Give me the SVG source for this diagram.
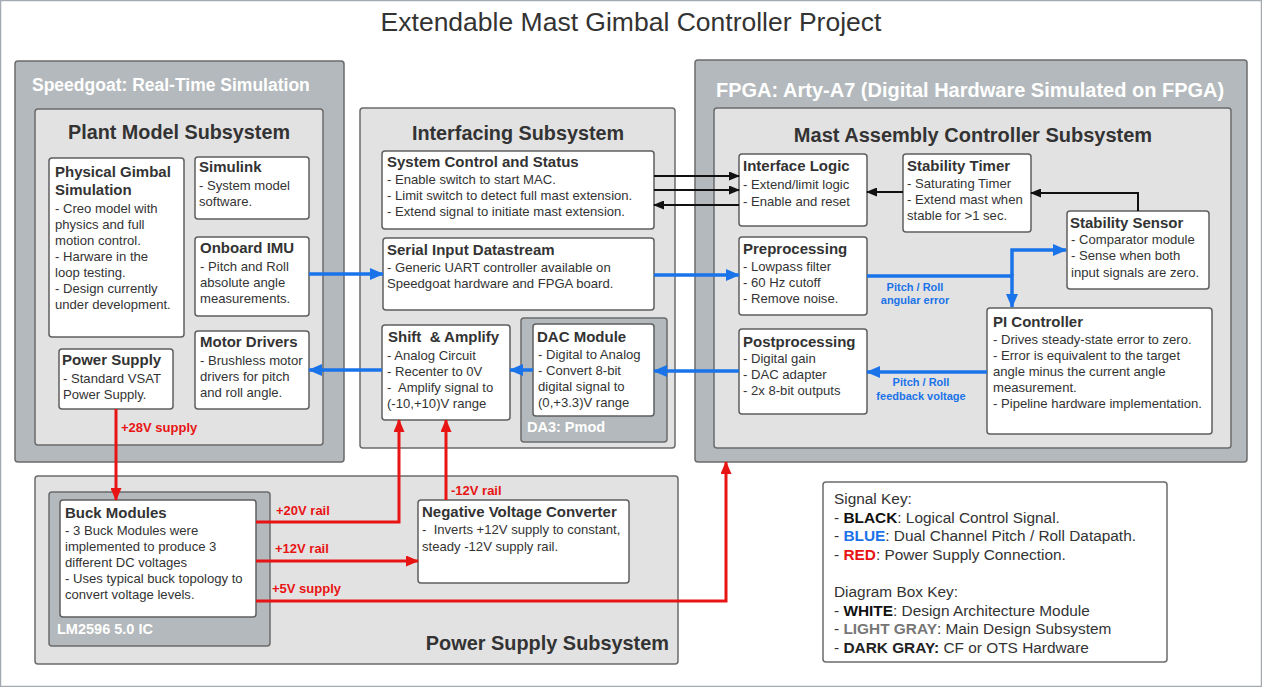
<svg xmlns="http://www.w3.org/2000/svg" width="1262" height="687" viewBox="0 0 1262 687">
<style>
text{font-family:"Liberation Sans",Arial,sans-serif;fill:#333}
.dk{fill:#b3b9bc;stroke:#6b6b6b;stroke-width:1.5}
.lt{fill:#e2e2e2;stroke:#6b6b6b;stroke-width:1.5}
.wb{fill:#fff;stroke:#5f5f5f;stroke-width:1.5}
.ht{font-size:17.5px;font-weight:bold;fill:#fff}
.st{font-size:19.8px;font-weight:bold;text-anchor:middle}
.bt{font-size:15px;font-weight:bold}
.b{font-size:13.1px}
.bl{fill:none;stroke:#1a73e8;stroke-width:3.5}
.bk{fill:none;stroke:#111;stroke-width:2}
.rd{fill:none;stroke:#e81414;stroke-width:3}
.bll{font-size:11px;font-weight:bold;fill:#1a73e8;text-anchor:middle}
.rl{font-size:13px;font-weight:bold;fill:#e81414}
.k{font-size:15.4px}
</style>
<defs>
<marker id="ab" markerUnits="userSpaceOnUse" markerWidth="14" markerHeight="12" refX="13" refY="6" orient="auto"><path d="M0,0 L14,6 L0,12 z" fill="#1a73e8"/></marker>
<marker id="ak" markerUnits="userSpaceOnUse" markerWidth="11" markerHeight="9" refX="10" refY="4.5" orient="auto"><path d="M0,0 L11,4.5 L0,9 z" fill="#111"/></marker>
<marker id="ar" markerUnits="userSpaceOnUse" markerWidth="13" markerHeight="11" refX="12" refY="5.5" orient="auto"><path d="M0,0 L13,5.5 L0,11 z" fill="#e81414"/></marker>
</defs>
<rect x="0.5" y="0.5" width="1261" height="686" fill="#fff" stroke="#a3aab2" stroke-width="1.5"/>
<text x="631" y="31" text-anchor="middle" style="font-size:26.5px">Extendable Mast Gimbal Controller Project</text>

<g id="speedgoat">
<rect class="dk" x="15" y="61" width="329" height="401" rx="3"/>
<text class="ht" x="32" y="91">Speedgoat: Real-Time Simulation</text>
</g>
<g id="plant-model">
<rect class="lt" x="35" y="109" width="288" height="336" rx="3"/>
<text class="st" x="179" y="139">Plant Model Subsystem</text>
</g>
<g id="physical-gimbal">
<rect class="wb" x="49" y="158" width="135" height="179" rx="3"/>
<text class="bt" x="55" y="177">Physical Gimbal</text>
<text class="bt" x="55" y="195">Simulation</text>
<text class="b" x="55" y="213">- Creo model with</text>
<text class="b" x="55" y="229">physics and full</text>
<text class="b" x="55" y="245">motion control.</text>
<text class="b" x="55" y="261">- Harware in the</text>
<text class="b" x="55" y="277">loop testing.</text>
<text class="b" x="55" y="293">- Design currently</text>
<text class="b" x="55" y="309">under development.</text>
</g>
<g id="simulink">
<rect class="wb" x="195" y="157" width="114" height="62" rx="3"/>
<text class="bt" x="199" y="172">Simulink</text>
<text class="b" x="199" y="190">- System model</text>
<text class="b" x="199" y="206">software.</text>
</g>
<g id="onboard-imu">
<rect class="wb" x="195" y="237" width="114" height="79" rx="3"/>
<text class="bt" x="200" y="253">Onboard IMU</text>
<text class="b" x="200" y="271">- Pitch and Roll</text>
<text class="b" x="200" y="287">absolute angle</text>
<text class="b" x="200" y="303">measurements.</text>
</g>
<g id="motor-drivers">
<rect class="wb" x="195" y="331" width="114" height="78" rx="3"/>
<text class="bt" x="200" y="347">Motor Drivers</text>
<text class="b" x="200" y="365">- Brushless motor</text>
<text class="b" x="200" y="381">drivers for pitch</text>
<text class="b" x="200" y="397">and roll angle.</text>
</g>
<g id="power-supply">
<rect class="wb" x="59" y="349" width="114" height="60" rx="3"/>
<text class="bt" x="62" y="365">Power Supply</text>
<text class="b" x="63" y="383">- Standard VSAT</text>
<text class="b" x="63" y="399">Power Supply.</text>
</g>

<g id="interfacing">
<rect class="lt" x="360" y="108" width="315" height="340" rx="3"/>
<text class="st" x="518" y="140">Interfacing Subsystem</text>
</g>
<g id="system-control">
<rect class="wb" x="382" y="151" width="272" height="78" rx="3"/>
<text class="bt" x="387" y="167">System Control and Status</text>
<text class="b" x="387" y="184">- Enable switch to start MAC.</text>
<text class="b" x="387" y="200">- Limit switch to detect full mast extension.</text>
<text class="b" x="387" y="216">- Extend signal to initiate mast extension.</text>
</g>
<g id="serial-input">
<rect class="wb" x="383" y="238" width="271" height="72" rx="3"/>
<text class="bt" x="387" y="255">Serial Input Datastream</text>
<text class="b" x="387" y="272">- Generic UART controller available on</text>
<text class="b" x="387" y="288">Speedgoat hardware and FPGA board.</text>
</g>
<g id="shift-amplify">
<rect class="wb" x="382" y="325" width="128" height="95" rx="3"/>
<text class="bt" x="388" y="342" xml:space="preserve">Shift  &amp; Amplify</text>
<text class="b" x="387" y="360">- Analog Circuit</text>
<text class="b" x="387" y="376">- Recenter to 0V</text>
<text class="b" x="387" y="392" xml:space="preserve">-  Amplify signal to</text>
<text class="b" x="387" y="408">(-10,+10)V range</text>
</g>
<g id="da3-pmod">
<rect class="dk" x="521" y="318" width="146" height="124" rx="3"/>
<text class="ht" x="527" y="432" style="font-size:14.5px">DA3: Pmod</text>
</g>
<g id="dac-module">
<rect class="wb" x="533" y="324" width="121" height="92" rx="3"/>
<text class="bt" x="537" y="342">DAC Module</text>
<text class="b" x="538" y="359">- Digital to Analog</text>
<text class="b" x="538" y="375">- Convert 8-bit</text>
<text class="b" x="538" y="391">digital signal to</text>
<text class="b" x="538" y="407">(0,+3.3)V range</text>
</g>

<g id="fpga">
<rect class="dk" x="695" y="60" width="552" height="402" rx="3"/>
<text class="ht" x="716" y="97" style="font-size:20px">FPGA: Arty-A7 (Digital Hardware Simulated on FPGA)</text>
</g>
<g id="mast-assembly">
<rect class="lt" x="714" y="108" width="517" height="340" rx="3"/>
<text class="st" x="973" y="142" style="font-size:20px">Mast Assembly Controller Subsystem</text>
</g>
<g id="interface-logic">
<rect class="wb" x="739" y="154" width="128" height="72" rx="3"/>
<text class="bt" x="743" y="171">Interface Logic</text>
<text class="b" x="743" y="189">- Extend/limit logic</text>
<text class="b" x="743" y="206">- Enable and reset</text>
</g>
<g id="stability-timer">
<rect class="wb" x="903" y="154" width="128" height="78" rx="3"/>
<text class="bt" x="907" y="171">Stability Timer</text>
<text class="b" x="907" y="188">- Saturating Timer</text>
<text class="b" x="907" y="204">- Extend mast when</text>
<text class="b" x="907" y="220">stable for &gt;1 sec.</text>
</g>
<g id="stability-sensor">
<rect class="wb" x="1067" y="211" width="142" height="78" rx="3"/>
<text class="bt" x="1070" y="228">Stability Sensor</text>
<text class="b" x="1071" y="244">- Comparator module</text>
<text class="b" x="1071" y="260">- Sense when both</text>
<text class="b" x="1071" y="277">input signals are zero.</text>
</g>
<g id="preprocessing">
<rect class="wb" x="739" y="237" width="128" height="78" rx="3"/>
<text class="bt" x="743" y="254">Preprocessing</text>
<text class="b" x="743" y="271">- Lowpass filter</text>
<text class="b" x="743" y="287">- 60 Hz cutoff</text>
<text class="b" x="743" y="303">- Remove noise.</text>
</g>
<g id="postprocessing">
<rect class="wb" x="739" y="329" width="128" height="85" rx="3"/>
<text class="bt" x="743" y="347">Postprocessing</text>
<text class="b" x="743" y="363">- Digital gain</text>
<text class="b" x="743" y="379">- DAC adapter</text>
<text class="b" x="743" y="395">- 2x 8-bit outputs</text>
</g>
<g id="pi-controller">
<rect class="wb" x="987" y="308" width="225" height="126" rx="3"/>
<text class="bt" x="993" y="327">PI Controller</text>
<text class="b" x="993" y="344">- Drives steady-state error to zero.</text>
<text class="b" x="993" y="360">- Error is equivalent to the target</text>
<text class="b" x="993" y="376">angle minus the current angle</text>
<text class="b" x="993" y="392">measurement.</text>
<text class="b" x="993" y="408">- Pipeline hardware implementation.</text>
</g>

<g id="power-subsystem">
<rect class="lt" x="35" y="476" width="643" height="188" rx="3"/>
<text class="st" x="669" y="650" style="text-anchor:end;font-size:19.9px">Power Supply Subsystem</text>
</g>
<g id="lm2596">
<rect class="dk" x="49" y="492" width="221" height="154" rx="3"/>
<text class="ht" x="57" y="634" style="font-size:14.5px">LM2596 5.0 IC</text>
</g>
<g id="buck-modules">
<rect class="wb" x="60" y="500" width="196" height="117" rx="3"/>
<text class="bt" x="65" y="518">Buck Modules</text>
<text class="b" x="65" y="535">- 3 Buck Modules were</text>
<text class="b" x="65" y="551">implemented to produce 3</text>
<text class="b" x="65" y="567">different DC voltages</text>
<text class="b" x="65" y="583">- Uses typical buck topology to</text>
<text class="b" x="65" y="599">convert voltage levels.</text>
</g>
<g id="negative-voltage">
<rect class="wb" x="418" y="500" width="211" height="83" rx="3"/>
<text class="bt" x="422" y="517">Negative Voltage Converter</text>
<text class="b" x="422" y="534" xml:space="preserve">-  Inverts +12V supply to constant,</text>
<text class="b" x="422" y="551">steady -12V supply rail.</text>
</g>

<g id="key">
<rect x="823" y="482" width="344" height="180" rx="3" fill="#fff" stroke="#6b6b6b" stroke-width="1.5"/>
<text class="k" x="834" y="504">Signal Key:</text>
<text class="k" x="834" y="523">- <tspan font-weight="bold" fill="#111">BLACK</tspan>: Logical Control Signal.</text>
<text class="k" x="834" y="541">- <tspan font-weight="bold" fill="#1a73e8">BLUE</tspan>: Dual Channel Pitch / Roll Datapath.</text>
<text class="k" x="834" y="560">- <tspan font-weight="bold" fill="#e81414">RED</tspan>: Power Supply Connection.</text>
<text class="k" x="834" y="597">Diagram Box Key:</text>
<text class="k" x="834" y="616">- <tspan font-weight="bold" fill="#111">WHITE</tspan>: Design Architecture Module</text>
<text class="k" x="834" y="634">- <tspan font-weight="bold" fill="#777">LIGHT GRAY</tspan>: Main Design Subsystem</text>
<text class="k" x="834" y="653">- <tspan font-weight="bold" fill="#222">DARK GRAY:</tspan> CF or OTS Hardware</text>
</g>

<g id="connectors">
<path class="bl" d="M309,274 L383,274" marker-end="url(#ab)"/>
<path class="bl" d="M654,275 L739,275" marker-end="url(#ab)"/>
<path class="bl" d="M867,276 L1012,276 L1012,307" marker-end="url(#ab)"/>
<path class="bl" d="M1012,276 L1012,250 L1066,250" marker-end="url(#ab)"/>
<path class="bl" d="M987,372 L867,372" marker-end="url(#ab)"/>
<path class="bl" d="M739,371 L654,371" marker-end="url(#ab)"/>
<path class="bl" d="M533,370 L510,370" marker-end="url(#ab)"/>
<path class="bl" d="M382,370 L309,370" marker-end="url(#ab)"/>
<path class="bk" d="M654,176 L739,176" marker-end="url(#ak)"/>
<path class="bk" d="M654,190 L739,190" marker-end="url(#ak)"/>
<path class="bk" d="M739,205 L654,205" marker-end="url(#ak)"/>
<path class="bk" d="M903,192 L867,192" marker-end="url(#ak)"/>
<path class="bk" d="M1138,211 L1138,193 L1031,193" marker-end="url(#ak)"/>
<path class="rd" d="M116,409 L116,500" marker-end="url(#ar)"/>
<path class="rd" d="M256,522 L399,522 L399,420" marker-end="url(#ar)"/>
<path class="rd" d="M446,500 L446,420" marker-end="url(#ar)"/>
<path class="rd" d="M256,561 L418,561" marker-end="url(#ar)"/>
<path class="rd" d="M256,601 L726,601 L726,462" marker-end="url(#ar)"/>
<text class="bll" x="915" y="291">Pitch / Roll</text>
<text class="bll" x="915" y="304">angular error</text>
<text class="bll" x="921" y="386">Pitch / Roll</text>
<text class="bll" x="921" y="400">feedback voltage</text>
<text class="rl" x="121" y="432">+28V supply</text>
<text class="rl" x="276" y="515">+20V rail</text>
<text class="rl" x="451" y="495">-12V rail</text>
<text class="rl" x="275" y="553">+12V rail</text>
<text class="rl" x="272" y="593">+5V supply</text>
</g>
</svg>
